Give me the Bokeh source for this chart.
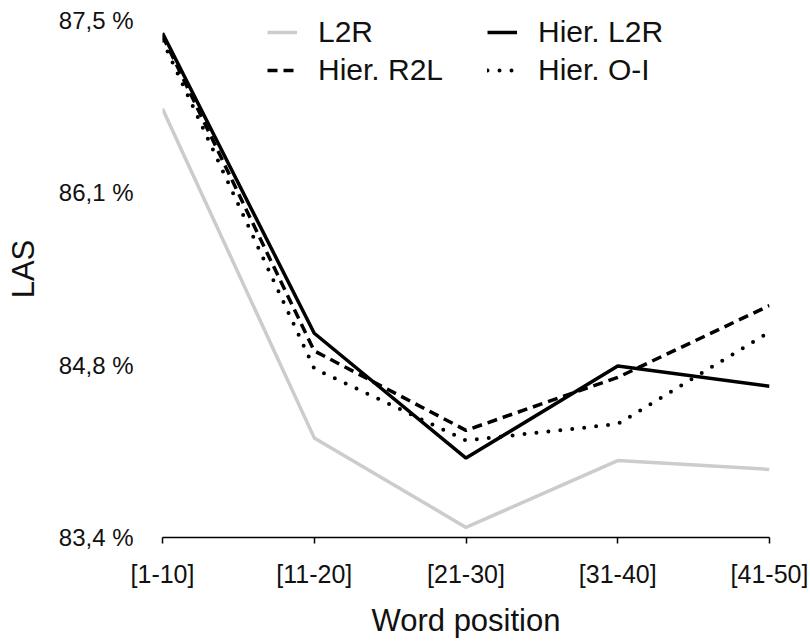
from bokeh.plotting import figure
from bokeh.models import Range1d, FixedTicker, Legend, LegendItem
from bokeh.embed import file_html
from bokeh.resources import INLINE

categories = ["[1-10]", "[11-20]", "[21-30]", "[31-40]", "[41-50]"]
l2r = [86.80, 84.19, 83.48, 84.01, 83.94]
hier_l2r = [87.40, 85.02, 84.03, 84.76, 84.60]
hier_r2l = [87.38, 84.88, 84.25, 84.67, 85.24]
hier_oi = [87.34, 84.74, 84.17, 84.30, 85.03]
y_ticks = [83.4, 84.7667, 86.1333, 87.5]
y_tick_labels = ["83,4 %", "84,8 %", "86,1 %", "87,5 %"]

FONT = "Liberation Sans"
xs = list(range(len(categories)))

p = figure(width=810, height=642, output_backend="svg", toolbar_location=None,
           x_range=Range1d(0, len(categories) - 1), y_range=Range1d(83.4, 87.659),
           min_border_left=162, min_border_right=41, min_border_top=0, min_border_bottom=105)
p.outline_line_color = None
p.grid.grid_line_color = None
p.background_fill_color = "white"

r_l2r = p.line(xs, l2r, line_color="#cccccc", line_width=3.5)
r_hl2r = p.line(xs, hier_l2r, line_color="black", line_width=3.5)
r_hr2l = p.line(xs, hier_r2l, line_color="black", line_width=3.5, line_dash="10 6")
r_hoi = p.line(xs, hier_oi, line_color="black", line_width=4, line_dash="0 12", line_cap="round")

p.xaxis.ticker = FixedTicker(ticks=xs)
p.xaxis.major_label_overrides = {i: c for i, c in zip(xs, categories)}
p.xaxis.axis_label = "Word position"
p.xaxis.axis_line_width = 1.5
p.xaxis.axis_line_color = "black"
p.xaxis.major_tick_line_width = 1.5
p.xaxis.major_tick_out = 6
p.xaxis.major_tick_in = 0
p.xaxis.minor_tick_line_color = None
p.xaxis.major_label_standoff = 16
p.xaxis.axis_label_standoff = 12

p.yaxis.ticker = FixedTicker(ticks=y_ticks)
p.yaxis.major_label_overrides = {t: l for t, l in zip(y_ticks, y_tick_labels)}
p.yaxis.axis_label = "LAS"
p.yaxis.axis_line_color = None
p.yaxis.major_tick_line_color = None
p.yaxis.minor_tick_line_color = None
p.yaxis.major_tick_out = 0
p.yaxis.major_tick_in = 0
p.yaxis.major_label_standoff = 29
p.yaxis.axis_label_standoff = 15

for ax in (p.xaxis, p.yaxis):
    ax.major_label_text_font = FONT
    ax.major_label_text_font_size = "25px"
    ax.major_label_text_color = "#111111"
    ax.axis_label_text_font = FONT
    ax.axis_label_text_font_size = "31px"
    ax.axis_label_text_font_style = "normal"
    ax.axis_label_text_color = "#111111"
p.yaxis.major_label_text_font_size = "24px"


def make_legend(items, loc):
    lg = Legend(items=items, location=loc, orientation="vertical")
    lg.border_line_color = None
    lg.background_fill_alpha = 0
    lg.padding = 0
    lg.margin = 0
    lg.spacing = 4
    lg.glyph_width = 30
    lg.glyph_height = 34
    lg.label_height = 34
    lg.label_standoff = 21
    lg.label_text_font = FONT
    lg.label_text_font_size = "30px"
    lg.label_text_color = "#111111"
    lg.label_text_baseline = "middle"
    return lg

leg1 = make_legend([LegendItem(label="L2R", renderers=[r_l2r]),
                    LegendItem(label="Hier. R2L", renderers=[r_hr2l])], (105, 450))
leg2 = make_legend([LegendItem(label="Hier. L2R", renderers=[r_hl2r]),
                    LegendItem(label="Hier. O-I", renderers=[r_hoi])], (325, 450))
p.add_layout(leg1, "center")
p.add_layout(leg2, "center")

open("out.html", "w").write(file_html(p, INLINE))
